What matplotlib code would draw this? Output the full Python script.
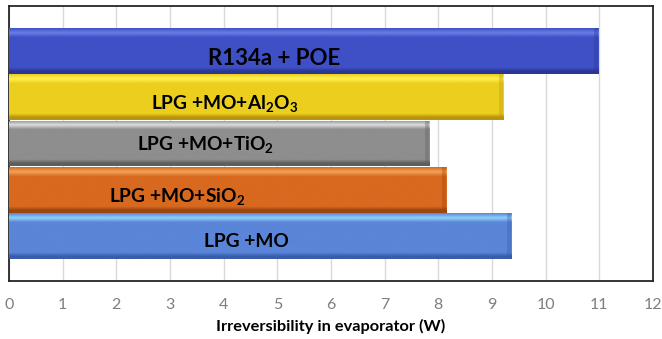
import numpy as np
import matplotlib
matplotlib.use("Agg")
import matplotlib.pyplot as plt
from matplotlib.colors import LinearSegmentedColormap

plt.rcParams['font.family'] = ['Lato', 'DejaVu Sans']

# mixtures, bottom to top
mixtures = ["LPG +MO",
            r"LPG +MO+SiO$_\mathregular{2}$",
            r"LPG +MO+TiO$_\mathregular{2}$",
            r"LPG +MO+Al$_\mathregular{2}$O$_\mathregular{3}$",
            "R134a + POE"]
irreversibility = [9.36, 8.15, 7.83, 9.21, 10.98]
xticks = list(range(0, 13))

# (top highlight, body, bottom shade) for each bar
bar_shades = [("#8fd2f6", "#5a85d8", "#3a5cae"),
              ("#f2a458", "#d8691f", "#9c4610"),
              ("#dcdcdc", "#8e8e8e", "#5e5e5e"),
              ("#fff150", "#eccf1e", "#b99410"),
              ("#6a7ee6", "#3f50c6", "#2b3794")]
# where each text label sits inside its bar (x in W, baseline offset from bar centre)
label_x = [4.43, 3.14, 3.66, 4.02, 4.94]
label_dy = [-0.24, -0.28, -0.15, -0.27, -0.30]
label_size = [13.8, 13.8, 13.8, 13.8, 16]

fig = plt.figure(figsize=(6.62, 3.39), dpi=100)
ax = fig.add_axes([9 / 662, 58 / 339, 644 / 662, 275 / 339])

ypos = np.arange(len(mixtures))
bars = ax.barh(ypos, irreversibility, height=0.99, color=[s[1] for s in bar_shades],
               edgecolor="none", zorder=2)

# vertical shading on each bar to give the bevelled look
for bar, shades in zip(bars, bar_shades):
    x0, y0 = bar.get_x(), bar.get_y()
    w, h = bar.get_width(), bar.get_height()
    cmap = LinearSegmentedColormap.from_list(
        "bevel", [(0.0, shades[2]), (0.06, shades[2]), (0.14, shades[1]),
                  (0.80, shades[1]), (0.90, shades[0]), (1.0, shades[1])])
    grad = np.linspace(0, 1, 200).reshape(-1, 1)
    im = ax.imshow(grad, cmap=cmap, origin="lower", aspect="auto",
                   extent=(x0, x0 + w, y0, y0 + h), zorder=3)
    im.set_clip_path(bar)
    # slightly darker bevel at the right end of the bar
    ax.fill_between([x0 + w - 0.08, x0 + w], y0, y0 + h, color=shades[2],
                    alpha=0.35, lw=0, zorder=4)

for i, name in enumerate(mixtures):
    ax.text(label_x[i], ypos[i] + label_dy[i], name, ha="center", va="baseline",
            fontsize=label_size[i], fontweight="bold", color="black", zorder=5)

ax.set_xlim(0, 12)
ax.set_ylim(-0.97, 4.97)
ax.set_xticks(xticks)
ax.set_yticks([])
ax.tick_params(axis="x", length=0, pad=12, labelsize=11.5, labelcolor="#7f7f7f")
ax.grid(axis="x", color="#d9d9d9", lw=1, zorder=0)
ax.set_axisbelow(True)
for sp in ax.spines.values():
    sp.set_color("#262626")
    sp.set_linewidth(1.3)

ax.set_xlabel("Irreversibility in evaporator (W)", fontsize=11.8, fontweight="bold",
              labelpad=5)

fig.savefig("out.png", dpi=100)
